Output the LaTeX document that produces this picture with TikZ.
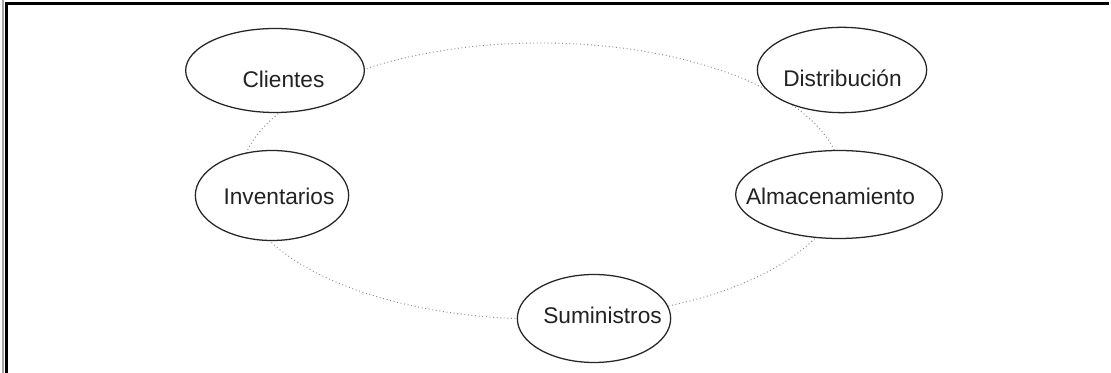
\documentclass[tikz,border=0pt]{standalone}
\usepackage{fontspec}
\setmainfont{Liberation Sans}
\usetikzlibrary{shapes.geometric}
\definecolor{ringgray}{HTML}{8A8A8A}
\definecolor{txtgray}{HTML}{222222}
\tikzset{
  bubble/.style={ellipse, draw=black!85, line width=0.95pt, fill=white, inner sep=0pt, outer sep=0pt},
  ring/.style={ellipse, draw=ringgray, line width=0.7pt, dotted, inner sep=0pt},
  lbl/.style={anchor=base, inner sep=0pt, text=txtgray, font=\fontsize{17}{20}\selectfont},
}
\begin{document}
\begin{tikzpicture}[x=0.75pt,y=-0.75pt]
\useasboundingbox (0,0) rectangle (1111,373);
\fill[white] (0,0) rectangle (1111,373);
% frame
\draw[gray!70, line width=1.5pt] (3,0) -- (3,373);
\draw[black, line width=1.6pt] (6.5,373) -- (6.5,3.5) -- (1109,3.5);
% cycle ring
\node[ring, minimum width=451.5pt, minimum height=207pt] (cycle) at (541,181) {};
% ellipses
\node[bubble, minimum width=134pt, minimum height=63pt] (cli) at (275,70.5) {};
\node[bubble, minimum width=127pt, minimum height=64pt] (dis) at (842,70) {};
\node[bubble, minimum width=115pt, minimum height=67.5pt] (inv) at (272,195.5) {};
\node[bubble, minimum width=155pt, minimum height=66pt] (alm) at (839,194.5) {};
\node[bubble, minimum width=115pt, minimum height=66pt] (sum) at (594,318.5) {};
% labels
\node[lbl] (cliT) at (283.5,88) {Clientes};
\node[lbl] (disT) at (842.5,87) {Distribución};
\node[lbl] (invT) at (279,205) {Inventarios};
\node[lbl] (almT) at (830.5,205) {Almacenamiento};
\node[lbl] (sumT) at (602.5,324) {Suministros};
\end{tikzpicture}
\end{document}
